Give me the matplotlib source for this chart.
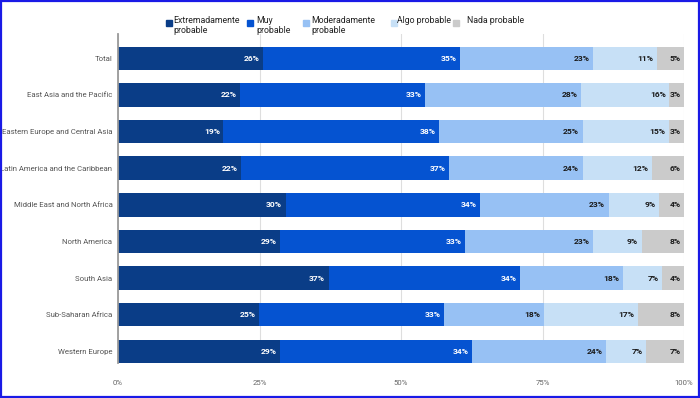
import numpy as np
import matplotlib
matplotlib.use('Agg')
import matplotlib.pyplot as plt
from matplotlib.patches import Rectangle

plt.rcParams['font.family'] = ['Roboto', 'DejaVu Sans']

# regiones (de arriba a abajo)
regions = ['Total', 'East Asia and the Pacific', 'Eastern Europe and Central Asia',
           'Latin America and the Caribbean', 'Middle East and North Africa',
           'North America', 'South Asia', 'Sub-Saharan Africa', 'Western Europe']

series_names = ['Extremadamente\nprobable', 'Muy\nprobable', 'Moderadamente\nprobable',
                'Algo probable', 'Nada probable']

extremadamente = [25.6, 21.6, 18.6, 21.7, 29.6, 28.7, 37.2, 24.9, 28.6]
muy = [34.9, 32.6, 38.2, 36.8, 34.4, 32.6, 33.8, 32.7, 34.0]
moderadamente = [23.4, 27.6, 25.3, 23.6, 22.7, 22.6, 18.2, 17.6, 23.6]
algo = [11.3, 15.6, 15.2, 12.2, 8.9, 8.6, 6.9, 16.6, 7.1]
nada = [4.8, 2.6, 2.7, 5.7, 4.4, 7.5, 3.9, 8.2, 6.7]

colors = ['#0a3d87', '#0553d1', '#97c1f4', '#c7e0f6', '#cbcbcb']
text_colors = ['white', 'white', '#1a1a1a', '#1a1a1a', '#1a1a1a']

fig = plt.figure(figsize=(7, 3.98), dpi=100)
ax = fig.add_axes([118 / 700, 1 - 363 / 398, (684 - 118) / 700, (363 - 34) / 398])

y = np.arange(len(regions))
left = np.zeros(len(regions))
for vals, col, tcol in zip([extremadamente, muy, moderadamente, algo, nada], colors, text_colors):
    vals = np.array(vals)
    ax.barh(y, vals, left=left, height=0.64, color=col, edgecolor='none', zorder=2)
    for yi, l, v in zip(y, left, vals):
        ax.annotate('%.0f%%' % v, (l + v, yi), xytext=(-2.5, 0), textcoords='offset points',
                    ha='right', va='center', fontsize=6.1, fontweight='bold', color=tcol, zorder=3)
    left += vals

ax.set_xlim(0, 100)
ax.set_ylim(8.32, -0.665)
ax.set_yticks(y)
ax.set_yticklabels(regions, fontsize=5.6, color='#555555')
ax.set_xticks([0, 25, 50, 75, 100])
ax.set_xticklabels(['0%', '25%', '50%', '75%', '100%'], fontsize=5.6, color='#666666')
ax.tick_params(length=0, pad=4)
ax.tick_params(axis='x', pad=12)
for s in ['top', 'right', 'bottom']:
    ax.spines[s].set_visible(False)
ax.spines['left'].set_color('#9a9a9a')
ax.spines['left'].set_linewidth(1.3)
ax.spines['left'].set_zorder(4)
ax.grid(axis='x', color='#dedede', linewidth=0.8, zorder=0)

# leyenda manual arriba
W, H = 700.0, 398.0
sq_x = [166, 247, 303, 391, 453]
txt_x = [173, 256, 311, 397, 467]
for sx, tx, name, col in zip(sq_x, txt_x, series_names, colors):
    fig.patches.append(Rectangle((sx / W, 1 - 26 / H), 6 / W, 6 / H,
                                 transform=fig.transFigure, color=col))
    fig.text(tx / W, 1 - 16 / H, name, fontsize=6.3, color='#222222',
             ha='left', va='top', linespacing=1.1)

# borde azul
fig.patches.append(Rectangle((0.001, 0.002), 0.997, 0.995, transform=fig.transFigure,
                             fill=False, edgecolor='#1a1ae6', linewidth=1.6))

fig.savefig('out.png', dpi=100)
